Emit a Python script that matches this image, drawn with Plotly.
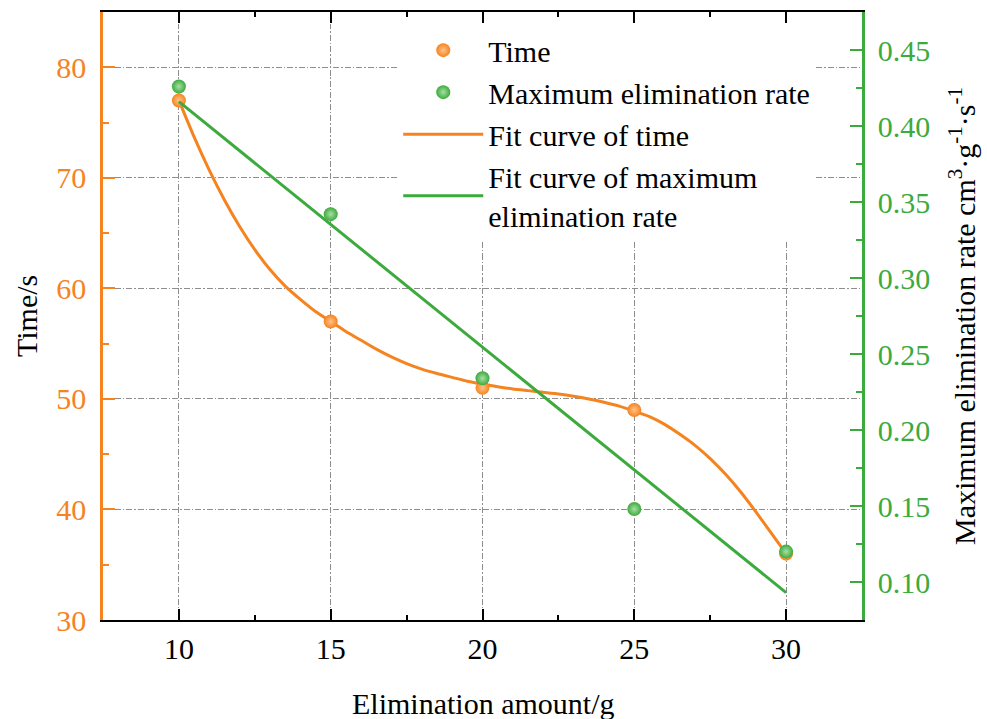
import plotly.graph_objects as go

# Measured data
amount = [10, 15, 20, 25, 30]
time_s = [77, 57, 51, 49, 36]
max_rate = [0.426, 0.342, 0.234, 0.148, 0.120]

# Fitted curve of time (smooth curve through the measurements)
fit_time_x = [10, 10.5, 11, 11.5, 12, 12.5, 13, 13.5, 14, 14.5, 15,
              15.5, 16, 16.5, 17, 17.5, 18, 18.5, 19, 19.5, 20,
              20.5, 21, 21.5, 22, 22.5, 23, 23.5, 24, 24.5, 25,
              25.5, 26, 26.5, 27, 27.5, 28, 28.5, 29, 29.5, 30]
fit_time_y = [77.0, 73.7, 70.7, 68.0, 65.6, 63.5, 61.7, 60.2, 59.0, 57.9, 57.0,
              56.1, 55.3, 54.5, 53.8, 53.2, 52.7, 52.3, 51.95, 51.6, 51.35,
              51.1, 50.9, 50.75, 50.6, 50.45, 50.25, 50.0, 49.7, 49.35, 48.9,
              48.4, 47.7, 46.8, 45.8, 44.6, 43.2, 41.6, 39.8, 37.9, 36.0]

# Linear fit of the maximum elimination rate
fit_rate_x = [10, 30]
fit_rate_y = [0.416, 0.093]

x_ticks = [10, 15, 20, 25, 30]

ORANGE = "#F5831F"
GREEN = "#3DAA3D"
FONT = "Liberation Serif, Times New Roman, serif"
GRID = dict(showgrid=True, gridcolor="#8e8e8e", gridwidth=1,
            griddash="6px,2px,1.5px,2px")

fig = go.Figure()

fig.add_trace(go.Scatter(
    x=fit_time_x, y=fit_time_y, mode="lines", name="Fit curve of time",
    line=dict(color=ORANGE, width=3, shape="spline", smoothing=0.6),
    legendrank=3, yaxis="y"))
fig.add_trace(go.Scatter(
    x=amount, y=time_s, mode="markers", name="Time",
    marker=dict(color=ORANGE, size=14,
                gradient=dict(type="radial", color="#FFC38A")),
    legendrank=1, yaxis="y"))
fig.add_trace(go.Scatter(
    x=fit_rate_x, y=fit_rate_y, mode="lines",
    name="Fit curve of maximum<br>elimination rate",
    line=dict(color=GREEN, width=3),
    legendrank=4, yaxis="y2"))
fig.add_trace(go.Scatter(
    x=amount, y=max_rate, mode="markers", name="Maximum elimination rate",
    marker=dict(color=GREEN, size=14,
                gradient=dict(type="radial", color="#A6E0A6")),
    legendrank=2, yaxis="y2"))

fig.update_layout(
    width=987, height=719, autosize=False,
    margin=dict(l=103, r=125, t=10, b=99),
    paper_bgcolor="white", plot_bgcolor="white",
    font=dict(family=FONT, size=30, color="black"),
    showlegend=True,
    legend=dict(x=0.389, y=0.98, xanchor="left", yanchor="top",
                bgcolor="white", borderwidth=0, itemwidth=80,
                font=dict(family=FONT, size=30, color="black"),
                tracegroupgap=0),
    xaxis=dict(range=[7.5, 32.5], tickvals=x_ticks,
               ticks="inside", ticklen=11, tickwidth=1.5, tickcolor="black",
               minor=dict(ticks="inside", ticklen=5, dtick=2.5, tick0=10,
                          tickcolor="black", tickwidth=1.5, showgrid=False),
               showline=True, linecolor="black", linewidth=2, mirror="ticks",
               zeroline=False, ticklabelstandoff=1,
               tickfont=dict(family=FONT, size=30, color="black"), **GRID),
    yaxis=dict(range=[30, 85], tick0=30, dtick=10,
               ticks="inside", ticklen=12, tickwidth=2, tickcolor=ORANGE,
               minor=dict(ticks="inside", ticklen=6, dtick=5, tick0=30,
                          tickcolor=ORANGE, tickwidth=2, showgrid=False),
               showline=True, linecolor=ORANGE, linewidth=2.5,
               zeroline=False, ticklabelstandoff=8,
               tickfont=dict(family=FONT, size=30, color=ORANGE), **GRID),
    yaxis2=dict(range=[0.075, 0.475], tick0=0.1, dtick=0.05, tickformat=".2f",
                overlaying="y", side="right",
                ticks="inside", ticklen=12, tickwidth=2, tickcolor=GREEN,
                minor=dict(ticks="inside", ticklen=6, dtick=0.025, tick0=0.1,
                           tickcolor=GREEN, tickwidth=2, showgrid=False),
                showline=True, linecolor=GREEN, linewidth=2.5,
                showgrid=False, zeroline=False, ticklabelstandoff=7,
                tickfont=dict(family=FONT, size=30, color=GREEN)),
    annotations=[
        dict(text="Elimination amount/g", x=0.5, y=0, xref="paper", yref="paper",
             xanchor="center", yanchor="middle", yshift=-83, showarrow=False,
             font=dict(family=FONT, size=30, color="black")),
        dict(text="Time/s", x=0, y=0.5, xref="paper", yref="paper",
             xanchor="center", yanchor="middle", xshift=-77, textangle=-90,
             showarrow=False, font=dict(family=FONT, size=30, color="black")),
        dict(text="Maximum elimination rate cm<sup>3</sup>·g<sup>-1</sup>·s<sup>-1</sup>",
             x=1, y=0.5, xref="paper", yref="paper",
             xanchor="center", yanchor="middle", xshift=100, textangle=-90,
             showarrow=False, font=dict(family=FONT, size=30, color="black")),
    ],
)

fig.write_html("out.html")
